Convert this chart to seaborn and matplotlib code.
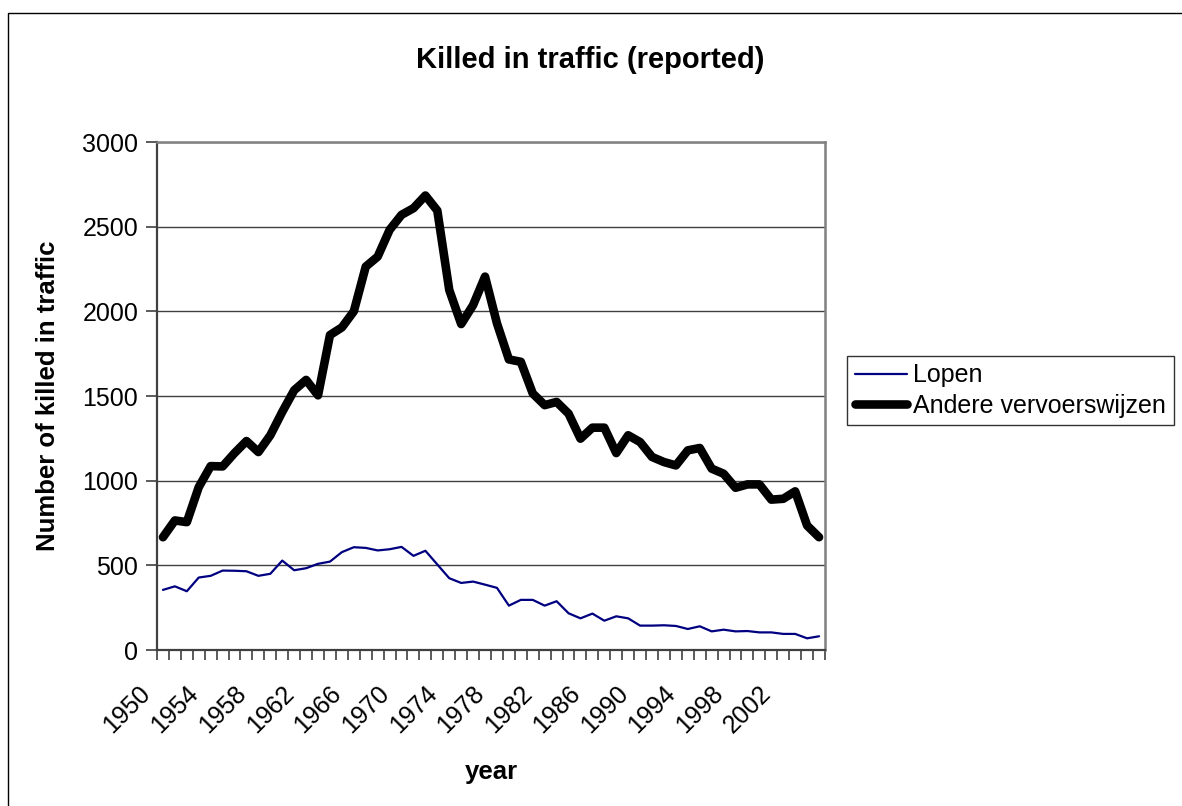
import matplotlib
matplotlib.use("Agg")
import matplotlib.pyplot as plt
import matplotlib.transforms as mtransforms
from matplotlib.patches import Rectangle
from matplotlib.ticker import FixedLocator
import numpy as np
import pandas as pd
import seaborn as sns

years = list(range(1950, 2006))
lopen = [355, 376, 347, 428, 438, 469, 468, 465, 438, 450,
         528, 471, 483, 509, 522, 578, 607, 603, 588, 595,
         609, 556, 586, 505, 424, 396, 404, 386, 367, 262,
         296, 296, 262, 288, 217, 187, 215, 173, 199, 187,
         144, 144, 146, 142, 124, 140, 110, 120, 110, 112,
         104, 104, 95, 95, 69, 81]
andere = [666, 765, 755, 962, 1086, 1084, 1163, 1234, 1169, 1268,
          1406, 1534, 1595, 1504, 1860, 1905, 2000, 2264, 2323, 2481,
          2570, 2609, 2684, 2595, 2126, 1925, 2037, 2205, 1929, 1716,
          1702, 1515, 1446, 1465, 1396, 1248, 1313, 1313, 1163, 1268,
          1228, 1140, 1110, 1090, 1179, 1193, 1071, 1041, 958, 978,
          978, 888, 893, 937, 735, 666]
series_names = ["Lopen", "Andere vervoerswijzen"]
year_labels = [str(y) for y in range(1950, 2003, 4)]

df = pd.DataFrame({"year": years, "Lopen": lopen, "Andere vervoerswijzen": andere})

sns.set_style("white")
plt.rcParams["font.family"] = ["Liberation Sans", "DejaVu Sans"]
plt.rcParams["text.color"] = "black"
plt.rcParams["axes.labelcolor"] = "black"
plt.rcParams["xtick.color"] = "black"
plt.rcParams["ytick.color"] = "black"

W, H = 1182, 806
fig = plt.figure(figsize=(W / 100, H / 100), dpi=100)
ax = fig.add_axes([157 / W, 1 - 650 / H, (825 - 157) / W, (650 - 142) / H])

sns.lineplot(data=df, x="year", y="Lopen", ax=ax, color="#000080", linewidth=1.6, label=series_names[0])
sns.lineplot(data=df, x="year", y="Andere vervoerswijzen", ax=ax, color="black", linewidth=6.2,
             solid_joinstyle="round", solid_capstyle="round", label=series_names[1])

ax.set_xlim(1949.5, 2005.5)
ax.set_ylim(0, 3000)
ax.set_yticks(range(0, 3001, 500))
ax.yaxis.grid(True, color="#404040", linewidth=1.0)
ax.set_axisbelow(True)

# category boundaries as minor ticks, labels every 4 years
ax.xaxis.set_minor_locator(FixedLocator(np.arange(1949.5, 2006, 1)))
ax.set_xticks(range(1950, 2003, 4))
ax.set_xticklabels(year_labels, rotation=45, ha="right", va="center", rotation_mode="anchor")
ax.tick_params(axis="x", which="major", length=0, pad=0, labelsize=18, labelcolor="black")
ax.tick_params(axis="x", which="minor", length=7, width=1.2, color="#404040", direction="out", bottom=True)
ax.tick_params(axis="y", length=8, width=1.2, color="#404040", direction="out", left=True, pad=5.5,
               labelsize=18, labelcolor="black")
offset = mtransforms.ScaledTranslation(-16 / 100, -40 / 100, fig.dpi_scale_trans)
for lab in ax.get_xticklabels():
    lab.set_transform(lab.get_transform() + offset)

for s in ["left", "bottom"]:
    ax.spines[s].set_color("#404040")
    ax.spines[s].set_linewidth(1.6)
for s in ["top", "right"]:
    ax.spines[s].set_color("#808080")
    ax.spines[s].set_linewidth(1.8)

ax.set_xlabel("")
ax.set_ylabel("")
fig.text(491 / W, 1 - 772 / H, "year", ha="center", va="center", fontsize=18.5, fontweight="bold")
fig.text(48 / W, 1 - 396 / H, "Number of killed in traffic", ha="center", va="center",
         rotation=90, fontsize=18.5, fontweight="bold")
fig.text(590 / W, 1 - 60 / H, "Killed in traffic (reported)", ha="center", va="center",
         fontsize=21, fontweight="bold")

leg = ax.legend(loc="upper left", bbox_to_anchor=(847 / W, 1 - 356 / H), bbox_transform=fig.transFigure,
                fontsize=18, frameon=True, fancybox=False, shadow=False, handlelength=2.1,
                handletextpad=0.25, labelspacing=0.25, borderpad=0.3, borderaxespad=0)
leg.get_frame().set_edgecolor("black")
leg.get_frame().set_linewidth(1.0)
for t in leg.get_texts():
    t.set_color("black")

# chart area border
fig.add_artist(Rectangle((8 / W, -0.2), 2, 1.2 - 13 / H, transform=fig.transFigure,
                         fill=False, edgecolor="black", linewidth=1.0))

fig.savefig("out.png", dpi=100)
